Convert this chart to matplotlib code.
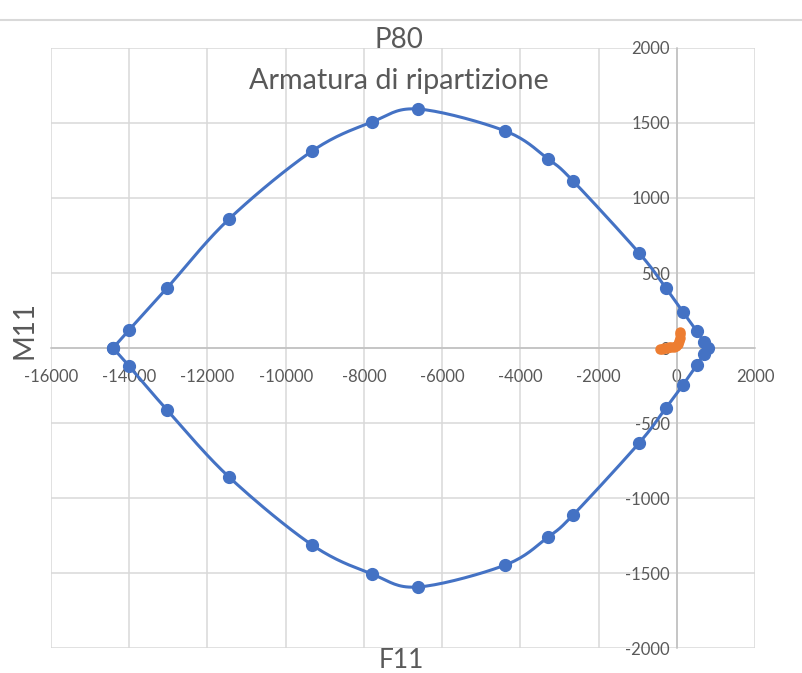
import matplotlib
matplotlib.use('Agg')
import matplotlib.pyplot as plt
import numpy as np

plt.rcParams['font.family'] = ['Lato', 'DejaVu Sans']
plt.rcParams['axes.unicode_minus'] = False

# dominio resistente (blu)
f11_dom = [-14414, -14005, -13033, -11448, -9325, -7790, -6614, -4389, -3289, -2650,
           -962, -279, 156, 512, 701, 803, 701, 512, 160, -279, -962, -2650, -3289,
           -4389, -6614, -7790, -9325, -11448, -13033, -14005, -14414]
m11_dom = [0, 120, 400, 860, 1313, 1507, 1593, 1447, 1260, 1113,
           633, 400, 240, 113, 40, 0, -40, -113, -245, -400, -633, -1113, -1260,
           -1447, -1593, -1507, -1313, -860, -413, -120, 0]

# sollecitazioni (arancio)
f11_sol = [-420, -380, -320, -260, -200, -140, -80, -30, 20, 50, 70, 80, 90]
m11_sol = [-8, -5, 0, 0, 4, 6, 10, 15, 25, 45, 70, 92, 108]


def smooth(x, y, n=20):
    # curva tipo Excel (Catmull-Rom)
    p = np.column_stack([x, y]).astype(float)
    p = np.vstack([p[0], p, p[-1]])
    out = []
    for i in range(1, len(p) - 2):
        p0, p1, p2, p3 = p[i - 1], p[i], p[i + 1], p[i + 2]
        t = np.linspace(0, 1, n)[:, None]
        c = 0.5 * ((2 * p1) + (-p0 + p2) * t + (2 * p0 - 5 * p1 + 4 * p2 - p3) * t ** 2
                   + (-p0 + 3 * p1 - 3 * p2 + p3) * t ** 3)
        out.append(c)
    c = np.vstack(out)
    return c[:, 0], c[:, 1]


fig = plt.figure(figsize=(8.02, 6.73), dpi=100)
ax = fig.add_axes([0.0636, 0.0371, 0.8778, 0.8916])

blu = '#4472C4'
arancio = '#ED7D31'

sx, sy = smooth(f11_dom, m11_dom)
ax.plot(sx, sy, color=blu, lw=2.2, zorder=3)
ax.plot(f11_dom, m11_dom, 'o', color=blu, ms=8.5, zorder=4)
ox, oy = smooth(f11_sol, m11_sol)
ax.plot(ox, oy, color=arancio, lw=2.2, zorder=3)
ax.plot(f11_sol, m11_sol, 'o', color=arancio, ms=6.5, zorder=4)

ax.set_xlim(-16000, 2000)
ax.set_ylim(-2000, 2000)
ax.set_xticks(np.arange(-16000, 2001, 2000))
ax.set_yticks(np.arange(-2000, 2001, 500))

ax.grid(True, color='#d9d9d9', lw=1.1)
ax.set_axisbelow(True)
for s in ['top', 'right']:
    ax.spines[s].set_visible(False)
ax.spines['left'].set_position(('data', 0))
ax.spines['bottom'].set_position(('data', 0))
ax.spines['left'].set_color('#bfbfbf')
ax.spines['bottom'].set_color('#bfbfbf')
ax.spines['left'].set_linewidth(1.1)
ax.spines['bottom'].set_linewidth(1.1)
ax.tick_params(axis='x', length=0, pad=15, labelsize=12, labelcolor='#595959')
ax.tick_params(axis='y', length=0, pad=5, labelsize=12, labelcolor='#595959')

fig.text(0.497, 0.94, 'P80', ha='center', va='center', fontsize=20, color='#595959')
fig.text(0.497, 0.88, 'Armatura di ripartizione', ha='center', va='center',
         fontsize=20.7, color='#595959')
fig.text(0.031, 0.51, 'M11', ha='center', va='center', rotation=90,
         fontsize=20, color='#595959')
fig.text(0.501, 0.018, 'F11', ha='center', va='center', fontsize=19, color='#595959')

# linea grigia in alto (bordo)
fig.add_artist(plt.Line2D([0, 1], [0.971, 0.971], color='#d9d9d9', lw=1.5,
                          transform=fig.transFigure))

plt.savefig('out.png', dpi=100)
